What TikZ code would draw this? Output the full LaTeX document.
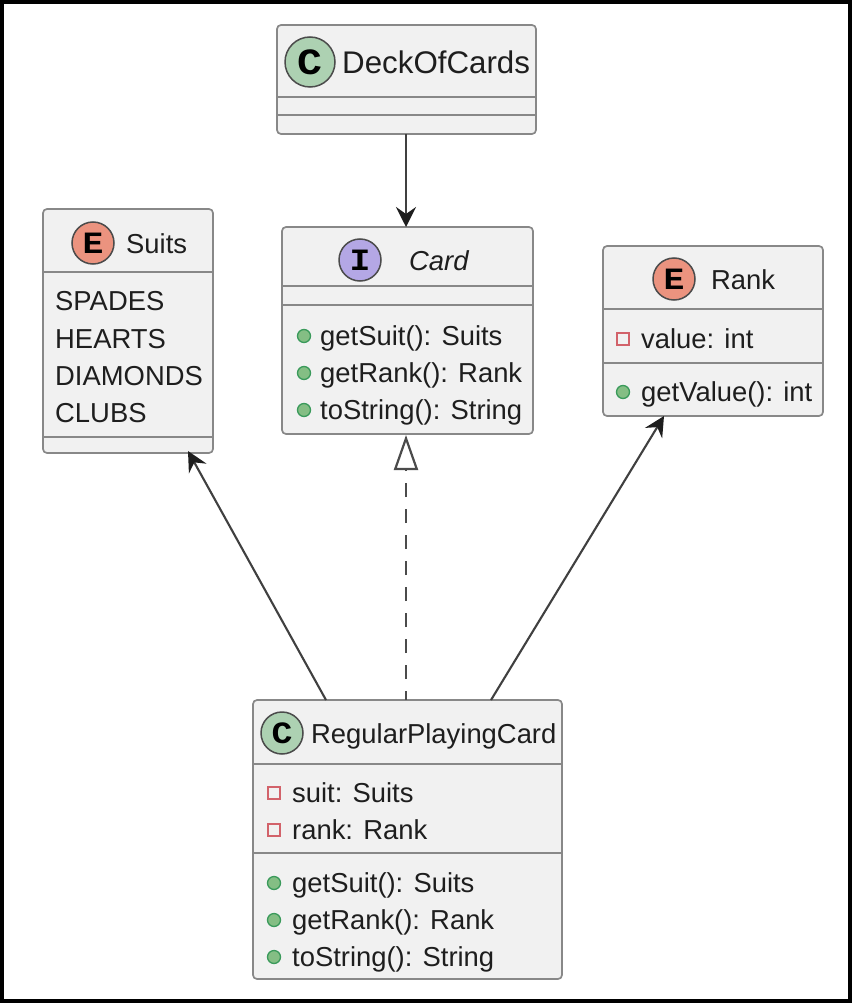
\documentclass[tikz,border=0pt]{standalone}
\usepackage{fontspec}
\setmainfont{Liberation Sans}
\newfontfamily\spotfont{Liberation Mono}
\usetikzlibrary{arrows.meta,positioning}
\definecolor{boxfill}{HTML}{F1F1F1}
\definecolor{boxline}{HTML}{888888}
\definecolor{ink}{HTML}{1E1E1E}
\definecolor{spotC}{HTML}{ADD1B2}
\definecolor{spotE}{HTML}{EB937F}
\definecolor{spotI}{HTML}{B4A7E5}
\definecolor{privline}{HTML}{D2626A}
\definecolor{publine}{HTML}{3A9A5B}
\definecolor{pubfill}{HTML}{84BE84}
\newcommand{\spotletter}[1]{\scalebox{1.12}[1]{#1}}
\tikzset{
  x=1pt,y=-1pt,
  umlbox/.style={draw=boxline,fill=boxfill,line width=1.7pt,rounded corners=4pt,inner sep=0pt,outer sep=0pt,anchor=north west},
  divider/.style={draw=boxline,line width=1.7pt},
  label/.style={anchor=base west,inner sep=0pt,text=ink,font=\fontsize{27.4}{27.4}\selectfont},
  title/.style={label},
  spot/.style={circle,draw=ink!80,line width=1.5pt,minimum size=#1,inner sep=0pt,text=black,font=\spotfont\bfseries\fontsize{31}{31}\selectfont},
  priv/.style={draw=privline,fill=boxfill,line width=1.9pt,minimum size=12pt,inner sep=0pt},
  pub/.style={circle,draw=publine,fill=pubfill,line width=1.3pt,minimum size=13pt,inner sep=0pt},
  assoc/.style={draw=ink!85,line width=2.1pt,-{Stealth[length=20pt,width=20pt,inset=7pt,color=ink]}},
  realize/.style={draw=ink!80,line width=2.2pt,dash pattern=on 14.5pt off 11.5pt,dash phase=5pt,-{Triangle[open,length=35pt,width=24pt,fill=white]}},
}
\begin{document}
\begin{tikzpicture}
\useasboundingbox (0,0) rectangle (852,1003);
\fill[white] (0,0) rectangle (852,1003);
\draw[black,line width=4pt] (2,2) rectangle (850,1001);

% DeckOfCards
\node[umlbox,minimum width=259pt,minimum height=109pt] (deck) at (277,25) {};
\draw[divider] ([yshift=-72pt]deck.north west) -- ([yshift=-72pt]deck.north east);
\draw[divider] ([yshift=-90pt]deck.north west) -- ([yshift=-90pt]deck.north east);
\node[spot=50pt,fill=spotC,font=\spotfont\bfseries\fontsize{37}{37}\selectfont] (deckspot) at (310,62) {\spotletter{C}};
\node[title,font=\fontsize{31.3}{31.3}\selectfont] (deckname) at (342,74) {DeckOfCards};

% Card
\node[umlbox,minimum width=251pt,minimum height=207pt] (card) at (282,227) {};
\draw[divider] ([yshift=-59pt]card.north west) -- ([yshift=-59pt]card.north east);
\draw[divider] ([yshift=-78pt]card.north west) -- ([yshift=-78pt]card.north east);
\node[spot=42pt,fill=spotI] (cardspot) at (360,260) {\spotletter{I}};
\node[title,font=\itshape\fontsize{27.4}{27.4}\selectfont] (cardname) at (409,270) {Card};
\node[pub] (cardp1) at (304,336) {};
\node[label] (cardm1) at (320,345) {getSuit(): Suits};
\node[pub] (cardp2) at (304,373) {};
\node[label] (cardm2) at (320,382) {getRank(): Rank};
\node[pub] (cardp3) at (304,410) {};
\node[label] (cardm3) at (320,419) {toString(): String};

% Suits
\node[umlbox,minimum width=170pt,minimum height=244pt] (suits) at (43,209) {};
\draw[divider] ([yshift=-63pt]suits.north west) -- ([yshift=-63pt]suits.north east);
\draw[divider] ([yshift=-228pt]suits.north west) -- ([yshift=-228pt]suits.north east);
\node[spot=42pt,fill=spotE] (suitsspot) at (93,243) {\spotletter{E}};
\node[title] (suitsname) at (126,253) {Suits};
\node[label] (s1) at (55,310) {SPADES};
\node[label] (s2) at (55,348) {HEARTS};
\node[label] (s3) at (55,385) {DIAMONDS};
\node[label] (s4) at (55,422) {CLUBS};

% Rank
\node[umlbox,minimum width=220pt,minimum height=170pt] (rank) at (603,246) {};
\draw[divider] ([yshift=-63pt]rank.north west) -- ([yshift=-63pt]rank.north east);
\draw[divider] ([yshift=-117pt]rank.north west) -- ([yshift=-117pt]rank.north east);
\node[spot=42pt,fill=spotE] (rankspot) at (674,279) {\spotletter{E}};
\node[title] (rankname) at (711,289) {Rank};
\node[priv] (rankq1) at (623,339) {};
\node[label] (rankf1) at (641,348) {value: int};
\node[pub] (rankp1) at (623,392) {};
\node[label] (rankm1) at (641,401) {getValue(): int};

% RegularPlayingCard
\node[umlbox,minimum width=309pt,minimum height=279pt] (rpc) at (253,700) {};
\draw[divider] ([yshift=-64pt]rpc.north west) -- ([yshift=-64pt]rpc.north east);
\draw[divider] ([yshift=-153pt]rpc.north west) -- ([yshift=-153pt]rpc.north east);
\node[spot=42pt,fill=spotC] (rpcspot) at (282,733) {\spotletter{C}};
\node[title] (rpcname) at (311,743) {RegularPlayingCard};
\node[priv] (rpcq1) at (274,793) {};
\node[label] (rpcf1) at (292,802) {suit: Suits};
\node[priv] (rpcq2) at (274,830) {};
\node[label] (rpcf2) at (292,839) {rank: Rank};
\node[pub] (rpcp1) at (274,883) {};
\node[label] (rpcm1) at (292,892) {getSuit(): Suits};
\node[pub] (rpcp2) at (274,920) {};
\node[label] (rpcm2) at (292,929) {getRank(): Rank};
\node[pub] (rpcp3) at (274,957) {};
\node[label] (rpcm3) at (292,966) {toString(): String};

% Connectors
\draw[assoc] ([xshift=129pt]deck.south west) -- ([xshift=124pt]card.north west);
\draw[realize] ([xshift=153pt]rpc.north west) -- ([xshift=124pt,yshift=-1pt]card.south west);
\draw[assoc] ([xshift=73pt]rpc.north west) -- ([xshift=145pt,yshift=2pt]suits.south west);
\draw[assoc] ([xshift=238pt]rpc.north west) -- ([xshift=61pt]rank.south west);
\end{tikzpicture}
\end{document}
